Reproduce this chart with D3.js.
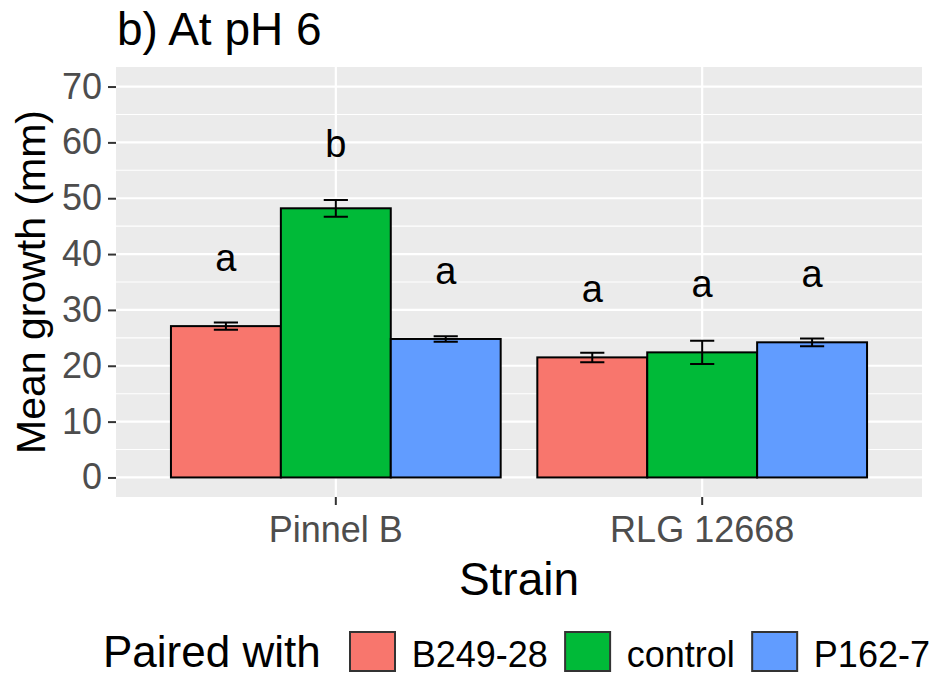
<!DOCTYPE html>
<html>
<head>
<meta charset="utf-8">
<script src="https://cdn.jsdelivr.net/npm/d3@7"></script>
<style>
  html, body { margin: 0; padding: 0; background: #ffffff; }
  svg { display: block; font-family: "Liberation Sans", Arial, sans-serif; }
</style>
</head>
<body>
<svg id="chart" width="936" height="677"></svg>
<script>
// Mean growth of each strain when paired with each partner, at pH 6
const strains = ["Pinnel B", "RLG 12668"];
const pairings = ["B249-28", "control", "P162-7"];
const meanGrowth = [
  [27.1, 48.2, 24.8],   // Pinnel B
  [21.5, 22.4, 24.2]    // RLG 12668
];
const errGrowth = [
  [0.65, 1.5, 0.5],
  [0.85, 2.1, 0.7]
];
const groupLetters = [
  ["a", "b", "a"],
  ["a", "a", "a"]
];
const yTicks = [0, 10, 20, 30, 40, 50, 60, 70];
const yMinor = [5, 15, 25, 35, 45, 55, 65];
const pairColors = ["#F8766D", "#00BA38", "#619CFF"];

const rows = strains.flatMap((s, i) => pairings.map((p, j) => ({
  strain: s, pair: p,
  mean: meanGrowth[i][j], err: errGrowth[i][j], letter: groupLetters[i][j]
})));

const svg = d3.select("#chart");
const panel = { left: 116, right: 922, top: 67, bottom: 497 };

const x = d3.scaleBand().domain(strains)
  .range([panel.left, panel.right]).paddingInner(0.1).paddingOuter(0.15);
const xi = d3.scaleBand().domain(pairings).range([0, x.bandwidth()]);
const y = d3.scaleLinear().domain([-3.5, 73.5]).range([panel.bottom, panel.top]);
const color = d3.scaleOrdinal().domain(pairings).range(pairColors);

// panel background and grid
svg.append("rect")
  .attr("x", panel.left).attr("y", panel.top)
  .attr("width", panel.right - panel.left).attr("height", panel.bottom - panel.top)
  .attr("fill", "#EBEBEB");

const grid = svg.append("g");
grid.selectAll("line.minor").data(yMinor).join("line")
  .attr("class", "minor")
  .attr("x1", panel.left).attr("x2", panel.right)
  .attr("y1", d => y(d)).attr("y2", d => y(d))
  .attr("stroke", "#ffffff").attr("stroke-width", 1.1);
grid.selectAll("line.major").data(yTicks).join("line")
  .attr("class", "major")
  .attr("x1", panel.left).attr("x2", panel.right)
  .attr("y1", d => y(d)).attr("y2", d => y(d))
  .attr("stroke", "#ffffff").attr("stroke-width", 2.2);
grid.selectAll("line.vmajor").data(strains).join("line")
  .attr("class", "vmajor")
  .attr("x1", d => x(d) + x.bandwidth() / 2).attr("x2", d => x(d) + x.bandwidth() / 2)
  .attr("y1", panel.top).attr("y2", panel.bottom)
  .attr("stroke", "#ffffff").attr("stroke-width", 2.2);

// bars
const cx = d => x(d.strain) + xi(d.pair) + xi.bandwidth() / 2;
svg.append("g").selectAll("rect").data(rows).join("rect")
  .attr("x", d => x(d.strain) + xi(d.pair))
  .attr("y", d => y(d.mean))
  .attr("width", xi.bandwidth())
  .attr("height", d => y(0) - y(d.mean))
  .attr("fill", d => color(d.pair))
  .attr("stroke", "#000000").attr("stroke-width", 2);

// error bars
const capHalf = xi.bandwidth() * 0.11;
const eb = svg.append("g").attr("stroke", "#000000").attr("stroke-width", 2).attr("fill", "none");
eb.selectAll("path").data(rows).join("path")
  .attr("d", d => {
    const c = cx(d), hi = y(d.mean + d.err), lo = y(d.mean - d.err);
    return `M${c - capHalf},${hi}H${c + capHalf}M${c},${hi}V${lo}M${c - capHalf},${lo}H${c + capHalf}`;
  });

// significance letters, centred on their glyphs
const letterSize = 38;
const tall = /[bdfhklt]/;
svg.append("g").selectAll("text").data(rows).join("text")
  .attr("x", d => cx(d))
  .attr("y", d => y(d.mean + 11.6) + (tall.test(d.letter) ? 0.365 : 0.26) * letterSize)
  .attr("text-anchor", "middle")
  .attr("font-size", letterSize)
  .attr("fill", "#000000")
  .text(d => d.letter);

// axes
const yAxis = svg.append("g").attr("transform", `translate(${panel.left},0)`)
  .call(d3.axisLeft(y).tickValues(yTicks).tickSize(8).tickPadding(6));
const xAxis = svg.append("g").attr("transform", `translate(0,${panel.bottom})`)
  .call(d3.axisBottom(x).tickSize(8).tickPadding(11.4));
[yAxis, xAxis].forEach(a => {
  a.select(".domain").remove();
  a.selectAll(".tick line").attr("stroke", "#333333").attr("stroke-width", 2);
  a.selectAll(".tick text")
    .attr("fill", "#4D4D4D")
    .attr("font-size", 36)
    .attr("font-family", "'Liberation Sans', Arial, sans-serif");
});

// titles
svg.append("text")
  .attr("x", 117).attr("y", 45)
  .attr("font-size", 46).attr("fill", "#000000")
  .text("b) At pH 6");

svg.append("text")
  .attr("x", (panel.left + panel.right) / 2).attr("y", 595)
  .attr("text-anchor", "middle")
  .attr("font-size", 46).attr("fill", "#000000")
  .text("Strain");

svg.append("text")
  .attr("transform", `translate(45,${(panel.top + panel.bottom) / 2}) rotate(-90)`)
  .attr("text-anchor", "middle")
  .attr("font-size", 41).attr("fill", "#000000")
  .text("Mean growth (mm)");

// legend along the bottom edge
const legendBase = 667;
const legend = svg.append("g");
legend.append("text")
  .attr("x", 103).attr("y", legendBase)
  .attr("font-size", 44).attr("fill", "#000000")
  .text("Paired with");

let lx = 350;
pairings.forEach(p => {
  legend.append("rect")
    .attr("x", lx).attr("y", legendBase - 35).attr("width", 45).attr("height", 39)
    .attr("fill", color(p)).attr("stroke", "#333333").attr("stroke-width", 2);
  const t = legend.append("text")
    .attr("x", lx + 45 + 16.7).attr("y", legendBase)
    .attr("font-size", 36).attr("fill", "#000000")
    .text(p);
  lx = lx + 45 + 16.7 + t.node().getComputedTextLength() + 17.3;
});
</script>
</body>
</html>
